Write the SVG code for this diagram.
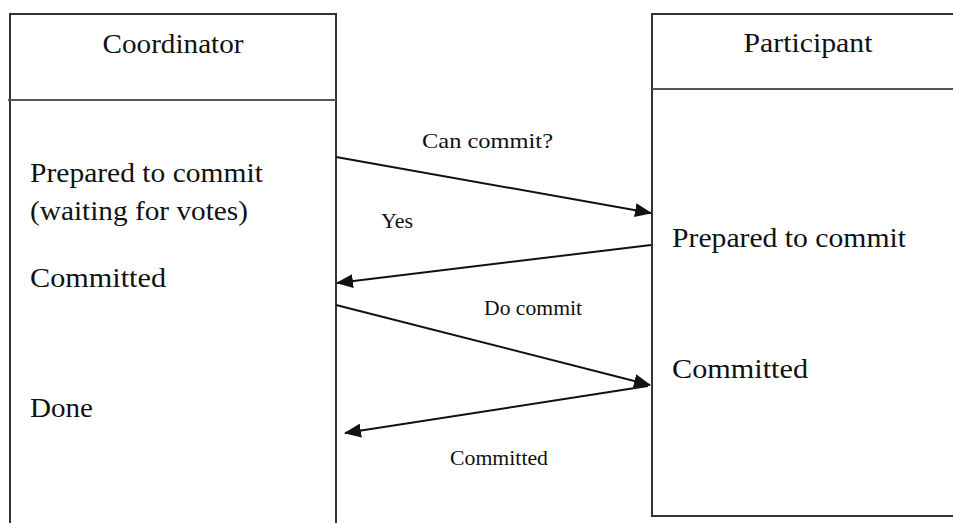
<svg xmlns="http://www.w3.org/2000/svg" width="953" height="523" viewBox="0 0 953 523">
<style>
.box{fill:#fff;stroke:#333;stroke-width:2}
.div{stroke:#555;stroke-width:2}
.t{font-family:"Liberation Serif","Times New Roman",serif;fill:#111}
.big{font-size:28px}
.sm{font-size:22px}
.c{stroke:#111;stroke-width:2;fill:none;marker-end:url(#ah)}
</style>
<defs>
<marker id="ah" markerWidth="17" markerHeight="14" refX="16" refY="7" orient="auto" markerUnits="userSpaceOnUse">
<path d="M0,0 L17,7 L0,14 Z" fill="#111"/>
</marker>
</defs>
<rect width="953" height="523" fill="#fff"/>
<g id="coordinator">
<path class="box" d="M10,530 V14 H336 V530"/>
<line class="div" x1="8" y1="100" x2="336" y2="100"/>
<text class="t big" x="173" y="53" text-anchor="middle" textLength="141" lengthAdjust="spacingAndGlyphs">Coordinator</text>
<text class="t big" x="30" y="182" textLength="233" lengthAdjust="spacingAndGlyphs">Prepared to commit</text>
<text class="t big" x="30" y="220" textLength="218" lengthAdjust="spacingAndGlyphs">(waiting for votes)</text>
<text class="t big" x="30" y="287" textLength="136" lengthAdjust="spacingAndGlyphs">Committed</text>
<text class="t big" x="30" y="417" textLength="63" lengthAdjust="spacingAndGlyphs">Done</text>
</g>
<g id="participant">
<path class="box" d="M960,14 H652 V516 H960"/>
<line class="div" x1="652" y1="89" x2="953" y2="89"/>
<text class="t big" x="808" y="52" text-anchor="middle" textLength="129" lengthAdjust="spacingAndGlyphs">Participant</text>
<text class="t big" x="672" y="247" textLength="234" lengthAdjust="spacingAndGlyphs">Prepared to commit</text>
<text class="t big" x="672" y="378" textLength="136" lengthAdjust="spacingAndGlyphs">Committed</text>
</g>
<g id="connectors">
<line class="c" x1="336" y1="157" x2="651" y2="213"/>
<line class="c" x1="651" y1="245" x2="337" y2="283"/>
<line class="c" x1="336" y1="305" x2="650" y2="385"/>
<line class="c" x1="648" y1="386" x2="345" y2="433"/>
</g>
<g id="labels">
<text class="t sm" x="422" y="148" textLength="131" lengthAdjust="spacingAndGlyphs">Can commit?</text>
<text class="t sm" x="381" y="228" textLength="32" lengthAdjust="spacingAndGlyphs">Yes</text>
<text class="t sm" x="484" y="315" textLength="98" lengthAdjust="spacingAndGlyphs">Do commit</text>
<text class="t sm" x="450" y="465" textLength="98" lengthAdjust="spacingAndGlyphs">Committed</text>
</g>
</svg>
